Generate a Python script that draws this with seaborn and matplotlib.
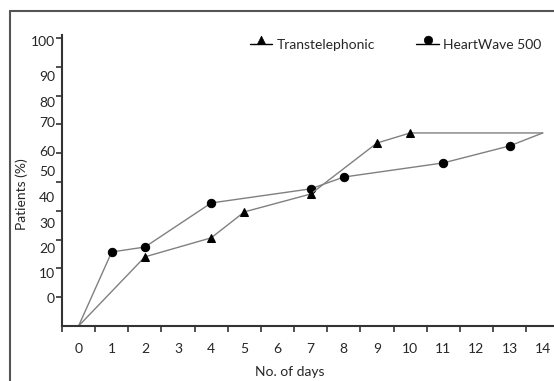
import numpy as np
import seaborn as sns
import matplotlib.pyplot as plt
from matplotlib.lines import Line2D
from matplotlib.path import Path
from matplotlib.transforms import Affine2D

# Data (% of patients by day)
hw_days = [0, 1, 2, 4, 7, 8, 11, 13, 14]
hw_vals = [0, 25.7, 27.4, 42.7, 47.6, 51.7, 56.6, 62.5, 67.0]
tt_days = [0, 2, 4, 5, 7, 9, 10, 14]
tt_vals = [0, 24.0, 30.6, 39.6, 45.8, 63.5, 67.0, 67.0]

x_labels = [str(d) for d in range(15)]
y_labels = [str(v) for v in range(0, 101, 10)]
# the printed y labels sit a little above their tick marks in the original
y_label_pos = [9.7, 18.4, 27.1, 35.8, 44.8, 53.8, 60.8, 70.8, 77.8, 86.8, 99.0]

sns.set_style("ticks")
plt.rcParams['font.family'] = ['Lato', 'DejaVu Sans']

fig = plt.figure(figsize=(5.54, 3.81), dpi=100)
ax = fig.add_axes([62 / 554, 55 / 381, 492 / 554, 291 / 381])

line_kw = dict(color='#808080', lw=1.0, markerfacecolor='black',
               markeredgecolor='black', markersize=6, legend=False, ax=ax)
sns.lineplot(x=hw_days, y=hw_vals, marker='o', markevery=slice(1, -1), **line_kw)
sns.lineplot(x=tt_days, y=tt_vals, marker='^', markevery=slice(1, -1), **line_kw)

ax.set_xlim(-0.5, 14.34)
ax.set_ylim(0, 101)

# x: tick marks between days, labels centred on days
ax.set_xticks(np.arange(-0.5, 14, 1))
ax.set_xticklabels([])
ax.set_xticks(range(15), minor=True)
ax.set_xticklabels(x_labels, minor=True)
ax.tick_params(axis='x', which='major', length=4, width=1.2, direction='out', color='#333333')
ax.tick_params(axis='x', which='minor', length=0, pad=12, labelsize=10)

# y: tick marks every 10, labels where they were printed
ax.set_yticks(range(10, 101, 10))
ax.set_yticklabels([])
ax.set_yticks(y_label_pos, minor=True)
ax.set_yticklabels(y_labels, minor=True)
ax.tick_params(axis='y', which='major', length=4, width=1.2, direction='out', color='#333333')
ax.tick_params(axis='y', which='minor', length=0, pad=5, labelsize=10)

for s in ['top', 'right']:
    ax.spines[s].set_visible(False)
for s in ['left', 'bottom']:
    ax.spines[s].set_linewidth(1.5)
    ax.spines[s].set_color('#333333')

ax.set_xlabel('No. of days', fontsize=10)
ax.xaxis.set_label_coords((290 - 62) / 492, -0.139)
ax.set_ylabel('Patients (%)', fontsize=10)
ax.yaxis.set_label_coords(-0.069, 0.453)

# legend: marker sitting on top of a short line
tri_up = [(-1, 0), (1, 0), (0, 2), (-1, 0)]
dot_up = Path.unit_circle().transformed(Affine2D().translate(0, 1))
handles = [
    Line2D([], [], color='black', lw=1.0, marker=tri_up,
           markersize=12, markerfacecolor='black', markeredgecolor='black', markeredgewidth=0.5),
    Line2D([], [], color='black', lw=1.0, marker=dot_up,
           markersize=12, markerfacecolor='black', markeredgecolor='black', markeredgewidth=0.5),
]
ax.legend(handles, ['Transtelephonic', 'HeartWave 500'], ncol=2, frameon=False,
          loc='center left', bbox_to_anchor=((250 - 62) / 492, 0.966),
          borderpad=0, borderaxespad=0, handlelength=1.6, handletextpad=0.3,
          columnspacing=3.0, fontsize=10)

# frame of the original figure box (top and left edges)
fx = 10 / 554
fy = 1 - 11 / 381
fig.add_artist(Line2D([fx, fx], [0, fy], color='#555555', lw=1.5, transform=fig.transFigure))
fig.add_artist(Line2D([fx, 1], [fy, fy], color='#555555', lw=1.5, transform=fig.transFigure))

fig.savefig('out.png', dpi=100)
